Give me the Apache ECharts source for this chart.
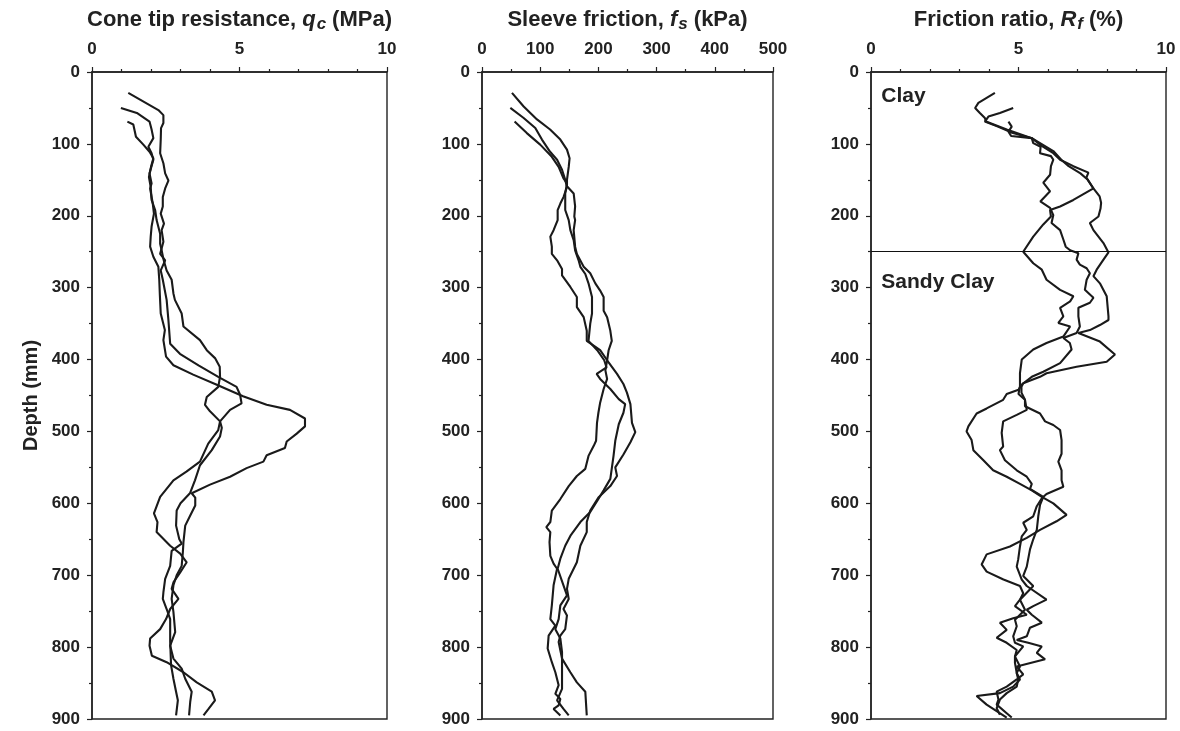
<!DOCTYPE html>
<html><head><meta charset="utf-8">
<script src="https://cdn.jsdelivr.net/npm/echarts/dist/echarts.min.js"></script>
<style>html,body{margin:0;padding:0;background:#fff}#c{width:1180px;height:731px}</style>
</head><body><div id="c"></div>
<script>
// ---- data: pairs of [depth (mm), value] ----
// Cone tip resistance qc (MPa)
const qc1 = [[29,1.23],[53,2.25],[60,2.42],[71,2.42],[78,2.34],[94,2.33],[113,2.31],[127,2.42],[141,2.48],[151,2.59],[162,2.48],[174,2.40],[187,2.40],[197,2.33],[211,2.44],[220,2.36],[236,2.42],[253,2.31],[262,2.48],[276,2.33],[289,2.40],[317,2.53],[345,2.59],[378,2.65],[392,2.98],[408,3.61],[424,4.28],[438,4.90],[449,5.02],[461,5.07],[470,4.68],[486,4.34],[498,4.28],[517,3.94],[542,3.66],[556,3.20],[568,2.76],[591,2.31],[614,2.10],[626,2.22],[640,2.19],[659,2.65],[670,2.99],[682,3.21],[696,2.99],[710,2.76],[719,2.70],[733,2.93],[747,2.65],[761,2.51],[775,2.31],[788,1.97],[798,1.95],[812,2.03],[821,2.53],[835,3.10],[849,3.55],[862,4.06],[874,4.17],[886,3.95],[895,3.78]];
const qc2 = [[50,0.98],[57,1.52],[69,1.95],[80,2.02],[92,2.08],[104,1.91],[113,2.02],[122,2.08],[141,1.95],[155,2.02],[162,1.97],[183,2.06],[197,2.10],[215,2.02],[229,1.99],[243,1.97],[257,2.08],[271,2.25],[289,2.28],[310,2.30],[336,2.33],[359,2.47],[373,2.42],[396,2.51],[408,2.76],[421,3.43],[435,4.23],[451,5.12],[463,5.92],[470,6.71],[482,7.22],[493,7.22],[503,6.94],[514,6.60],[523,6.54],[533,5.92],[542,5.81],[551,5.24],[563,4.68],[574,4.00],[586,3.38],[592,3.50],[603,3.50],[617,3.33],[631,3.16],[654,3.10],[668,3.08],[687,3.04],[700,2.87],[714,2.76],[733,2.70],[751,2.76],[779,2.82],[798,2.65],[816,2.76],[830,3.04],[844,3.16],[862,3.38],[876,3.33],[895,3.29]];
const qc3 = [[69,1.20],[73,1.40],[90,1.49],[101,1.74],[111,1.95],[120,2.08],[132,2.00],[146,1.93],[160,1.99],[178,2.02],[192,2.14],[206,2.19],[225,2.31],[239,2.31],[248,2.36],[260,2.42],[276,2.53],[289,2.70],[308,2.76],[317,2.81],[336,3.04],[354,3.10],[373,3.66],[387,3.89],[398,4.17],[410,4.33],[424,4.34],[438,4.28],[452,3.89],[463,3.83],[472,4.00],[486,4.34],[495,4.40],[507,4.34],[526,4.06],[547,3.66],[568,3.49],[586,3.32],[600,3.00],[610,2.87],[631,2.85],[650,2.96],[656,3.04],[666,2.70],[687,2.65],[705,2.48],[724,2.42],[733,2.40],[747,2.53],[761,2.65],[793,2.65],[825,2.68],[844,2.76],[862,2.85],[874,2.91],[895,2.85]];
// Sleeve friction fs (kPa)
const fs1 = [[29,51.5],[48,71.6],[66,94.5],[80,117],[94,134.6],[108,146],[120,150.5],[132,149],[150,146],[159,146],[169,157.5],[187,160],[201,158.6],[206,160],[220,157.5],[243,160],[253,163],[271,174.7],[280,186],[294,194.7],[304,203],[313,209],[332,209],[341,215],[360,220.5],[374,223],[387,217.6],[401,215],[415,212],[427,215],[441,209],[460,203],[474,200],[488,197.6],[513,196],[520,192],[534,183],[552,177.5],[562,163],[576,149],[594,134.6],[610,120],[626,117.4],[633,110.5],[640,117.4],[654,116],[673,117.4],[684,123],[691,129],[714,123],[742,120],[761,117.4],[770,126],[784,114.5],[802,112.8],[821,120],[835,126],[853,131.7],[865,126],[872,134.6],[881,131.7],[886,123],[895,134.6]];
const fs2 = [[50,48.7],[64,71.6],[78,91.6],[94,103],[111,117],[122,129],[136,137.5],[150,143],[160,146],[174,140],[183,134.6],[192,130],[206,130],[220,123],[229,117.4],[243,120],[253,120],[262,129],[274,137.5],[283,137.5],[299,151.8],[313,163],[327,163],[341,174.7],[360,180],[374,180],[387,203],[401,215],[420,232],[434,243],[446,249],[462,255],[488,257.7],[501,263.4],[515,255],[532,243],[550,229],[562,232],[576,220.5],[592,200],[610,186],[626,180],[640,180],[659,169],[682,163],[705,149],[719,146],[733,149],[747,140],[756,146],[775,143],[784,134.6],[793,131.7],[816,137.5],[835,151.8],[849,163],[862,177.5],[895,180]];
const fs3 = [[69,56],[85,77],[101,100],[118,120],[132,131.7],[148,140],[155,146],[169,143],[192,143],[206,149],[220,151.8],[234,157.5],[248,160],[262,166],[271,169],[281,177.5],[294,183],[313,189],[336,189],[350,186],[374,183],[387,198],[401,210],[411,214],[420,197],[427,203],[441,220.5],[455,235],[462,246],[474,243],[490,235],[513,229],[534,226],[566,220.5],[582,209],[594,200],[612,186],[626,169],[645,152],[659,143],[677,134.6],[691,130],[714,140],[728,146],[742,134.6],[761,131.7],[775,126],[788,134.6],[807,137.5],[830,137.5],[858,137.5],[874,129],[886,140],[895,149]];
// Friction ratio Rf (%)
const rf1 = [[29,4.20],[36,3.92],[43,3.64],[50,3.53],[57,3.69],[64,3.86],[69,3.90],[80,4.60],[92,5.45],[103,5.80],[113,6.18],[122,6.41],[131,6.86],[140,7.37],[147,7.30],[162,7.54],[170,7.20],[178,6.86],[187,6.41],[192,6.07],[201,6.10],[212,5.84],[229,5.50],[250,5.16],[266,5.50],[275,5.79],[289,5.95],[303,6.41],[312,6.86],[319,6.75],[328,6.41],[340,6.52],[349,6.35],[354,6.75],[368,6.52],[377,5.95],[386,5.50],[400,5.11],[419,5.05],[437,5.05],[448,5.00],[456,5.22],[465,5.22],[475,5.73],[486,5.90],[491,6.18],[498,6.41],[512,6.46],[531,6.46],[542,6.35],[554,6.46],[568,6.46],[577,6.52],[587,5.95],[593,5.79],[604,5.62],[618,5.50],[627,5.16],[637,5.28],[646,5.11],[660,5.05],[678,4.99],[688,4.94],[706,5.11],[715,5.28],[734,5.95],[743,5.50],[748,5.28],[755,5.45],[766,5.79],[773,5.39],[785,5.28],[790,4.94],[794,5.33],[799,5.79],[808,5.62],[817,5.90],[827,4.94],[838,5.16],[845,4.94],[855,4.60],[862,4.26],[873,4.32],[880,4.26],[892,4.60],[898,4.77]];
const rf2 = [[50,4.82],[57,4.37],[62,3.98],[69,3.86],[76,4.30],[84,4.75],[92,5.45],[99,5.50],[104,5.75],[113,5.73],[117,6.10],[122,6.18],[131,6.10],[143,6.07],[154,5.84],[166,6.07],[180,5.74],[189,6.07],[199,6.18],[210,6.12],[220,6.41],[233,6.52],[243,6.60],[248,6.75],[252,7.03],[261,6.97],[268,7.08],[273,7.31],[280,7.42],[289,7.31],[303,7.25],[314,7.54],[321,7.42],[328,7.03],[340,7.03],[354,7.08],[363,6.97],[370,6.52],[377,6.74],[386,6.80],[405,6.41],[417,5.84],[424,5.45],[435,5.10],[442,5.00],[448,4.60],[456,4.48],[468,3.92],[475,3.58],[493,3.30],[500,3.24],[512,3.41],[526,3.47],[540,3.81],[554,4.14],[563,4.60],[573,5.05],[582,5.45],[591,5.79],[600,6.18],[616,6.63],[625,6.29],[637,5.73],[648,5.28],[660,4.71],[671,3.92],[685,3.75],[695,3.92],[706,4.49],[715,5.05],[725,5.16],[734,5.05],[743,4.88],[755,5.28],[760,4.82],[766,4.37],[776,4.60],[787,4.26],[794,4.60],[804,4.94],[813,4.88],[827,5.05],[836,4.94],[845,4.99],[855,4.94],[864,4.60],[873,4.37],[885,4.26],[894,4.37]];
const rf3 = [[69,4.66],[76,4.77],[83,4.66],[89,4.75],[92,5.45],[110,6.18],[122,6.45],[131,6.70],[141,7.10],[150,7.35],[162,7.54],[173,7.75],[182,7.80],[190,7.78],[201,7.71],[210,7.42],[220,7.54],[238,7.88],[251,8.05],[261,7.88],[275,7.65],[284,7.54],[294,7.76],[312,7.99],[340,8.05],[345,8.05],[352,7.76],[359,7.42],[363,7.03],[375,7.76],[393,8.27],[403,7.99],[410,6.97],[419,5.95],[424,5.73],[433,5.16],[438,5.10],[446,5.10],[456,5.22],[470,5.28],[477,4.94],[486,4.48],[502,4.43],[521,4.48],[526,4.37],[540,4.54],[554,4.94],[563,5.28],[573,5.45],[580,5.39],[591,5.84],[602,5.73],[618,5.67],[637,5.62],[650,5.50],[664,5.39],[688,5.28],[701,5.16],[715,5.50],[734,5.05],[748,5.22],[762,4.88],[771,4.94],[785,4.82],[794,4.88],[799,5.16],[813,4.88],[822,4.88],[836,4.94],[845,5.05],[855,4.82],[864,4.37],[868,3.58],[880,3.92],[889,4.26],[898,4.60]];
// soil layer boundary and labels
const layerBoundary = 250;
const layerLabels = [['Clay', 0.35, 33], ['Sandy Clay', 0.35, 293]];
// axis settings
const xMax = [10, 500, 10];
const xInterval = [5, 100, 5];
const xMinorSplit = [5, 2, 5];
const depthMax = 900, depthInterval = 100;

const FONT = 'Liberation Sans, Arial, sans-serif';
const INK = '#222';
const titles = [
  '{t|Cone tip resistance, }{i|q}{s|c}{t|(MPa)}',
  '{t|Sleeve friction, }{i|f}{s|s}{t|(kPa)}',
  '{t|Friction ratio, }{i|R}{s|f}{t|(%)}'
];
const richT = {
  t: {fontSize: 22, fontWeight: 'bold', color: INK, fontFamily: FONT},
  i: {fontSize: 22, fontWeight: 'bold', fontStyle: 'italic', color: INK, fontFamily: FONT},
  s: {fontSize: 17, fontWeight: 'bold', fontStyle: 'italic', color: INK, fontFamily: FONT, padding: [10, 6, 0, 1]}
};

const grids = [
  {left: 92, top: 72, width: 295, height: 647},
  {left: 482, top: 72, width: 291, height: 647},
  {left: 871, top: 72, width: 295, height: 647}
].map(g => Object.assign(g, {show: true, borderColor: INK, borderWidth: 1.4, backgroundColor: 'transparent', containLabel: false}));

const xAxes = [0, 1, 2].map(i => ({
  gridIndex: i, type: 'value', position: 'top', min: 0, max: xMax[i], interval: xInterval[i],
  axisLine: {show: true, onZero: false, lineStyle: {color: INK, width: 1.5}},
  axisTick: {show: true, inside: false, length: 5, lineStyle: {color: INK, width: 1.2}},
  minorTick: {show: true, splitNumber: xMinorSplit[i], length: 3, lineStyle: {color: INK, width: 1.2}},
  splitLine: {show: false}, minorSplitLine: {show: false},
  axisLabel: {fontSize: 17, fontWeight: 'bold', color: INK, fontFamily: FONT, margin: 14},
  name: titles[i], nameLocation: 'middle', nameGap: 39,
  nameTextStyle: {rich: richT}
}));

const yAxes = [0, 1, 2].map(i => ({
  gridIndex: i, type: 'value', inverse: true, min: 0, max: depthMax, interval: depthInterval,
  axisLine: {show: true, onZero: false, lineStyle: {color: INK, width: 1.5}},
  axisTick: {show: true, inside: false, length: 5, lineStyle: {color: INK, width: 1.2}},
  minorTick: {show: true, splitNumber: 2, length: 3, lineStyle: {color: INK, width: 1.2}},
  splitLine: {show: false}, minorSplitLine: {show: false},
  axisLabel: {fontSize: 17, fontWeight: 'bold', color: INK, fontFamily: FONT, margin: 12},
  name: i === 0 ? 'Depth (mm)' : '', nameLocation: 'middle', nameGap: 51, nameRotate: 90,
  nameTextStyle: {fontSize: 20, fontWeight: 'bold', color: INK, fontFamily: FONT}
}));

const curves = [[qc1, qc2, qc3], [fs1, fs2, fs3], [rf1, rf2, rf3]];
const series = [];
curves.forEach((set, gi) => set.forEach(c => {
  series.push({
    type: 'line', xAxisIndex: gi, yAxisIndex: gi, showSymbol: false, symbol: 'none',
    data: c.map(p => [p[1], p[0]]), smooth: false, sampling: null, clip: true,
    lineStyle: {color: '#1a1a1a', width: 2.1}, silent: true
  });
}));
series.push({
  type: 'line', xAxisIndex: 2, yAxisIndex: 2, data: [], symbol: 'none',
  markLine: {silent: true, symbol: ['none', 'none'], label: {show: false},
    lineStyle: {color: '#111', width: 1.1, type: 'solid', opacity: 1}, data: [{yAxis: layerBoundary}]}
});
series.push({
  type: 'scatter', xAxisIndex: 2, yAxisIndex: 2, symbolSize: 0, silent: true,
  itemStyle: {opacity: 1},
  data: layerLabels.map(l => [l[1], l[2], l[0]]),
  label: {show: true, position: 'right', distance: 0, formatter: p => p.data[2], opacity: 1,
    fontSize: 21, fontWeight: 'bold', color: INK, fontFamily: FONT}
});

const chart = echarts.init(document.getElementById('c'), null, {renderer: 'canvas'});
chart.setOption({
  animation: false, backgroundColor: '#fff',
  grid: grids, xAxis: xAxes, yAxis: yAxes, series: series
});
</script>
</body></html>
